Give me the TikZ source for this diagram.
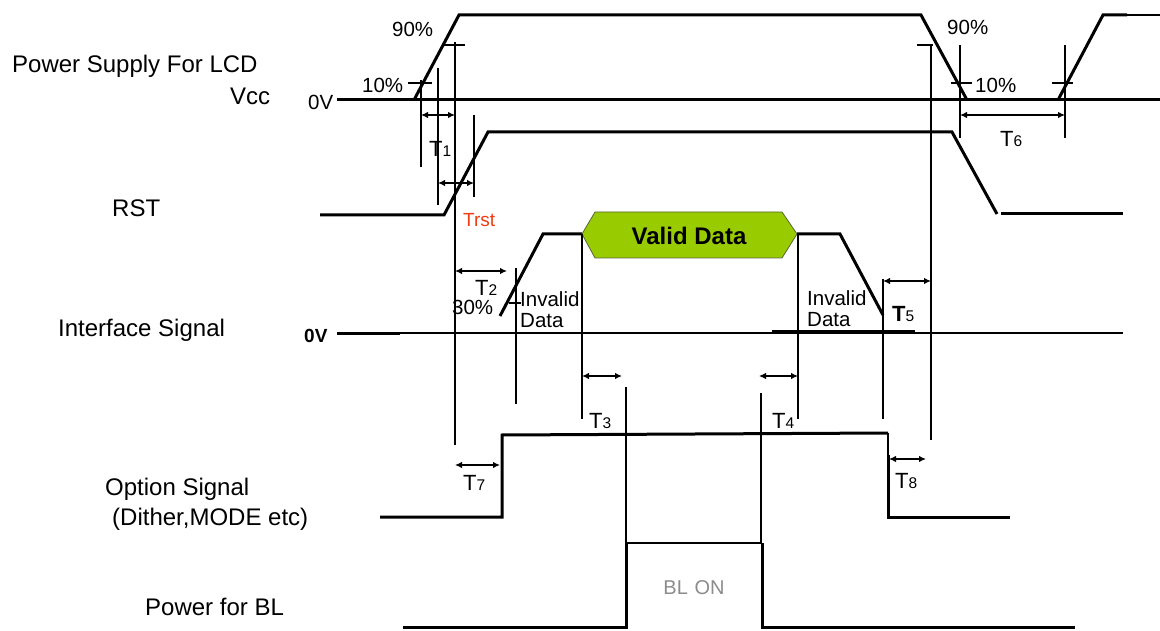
\documentclass[tikz,border=0pt]{standalone}
\usepackage{fontspec}
\setmainfont{Liberation Sans}
\usetikzlibrary{arrows.meta}
\definecolor{validgreen}{RGB}{153,204,0}
\definecolor{validedge}{RGB}{90,100,60}
\definecolor{trstred}{RGB}{240,60,20}
\definecolor{blgray}{RGB}{140,140,140}
\newcommand\mkT[1]{T{\fontsize{15.5}{15}\selectfont #1}}
\begin{document}
\begin{tikzpicture}[x=1pt,y=-1pt,
  sig/.style={line width=3pt, line join=miter},
  guide/.style={line width=1.3pt},
  dim/.style={line width=1.3pt, {Latex[length=7pt,width=6.5pt]}-{Latex[length=7pt,width=6.5pt]}},
  lbl/.style={font=\fontsize{24}{28}\selectfont, inner sep=0pt, anchor=base west},
  pct/.style={font=\fontsize{20.5}{24}\selectfont, inner sep=0pt, anchor=base west},
  tl/.style={font=\fontsize{22}{24}\selectfont, inner sep=0pt, anchor=base west}]
\useasboundingbox (0,0) rectangle (1160,631);

% ---------- left labels ----------
\node[lbl] (lcd) at (12,73) {Power Supply For LCD};
\node[lbl] (vcc) at (230,105) {Vcc};
\node[lbl] (rst) at (112,217) {RST};
\node[lbl] (ifs) at (58,336) {Interface Signal};
\node[lbl] (opt) at (105,495) {Option Signal};
\node[lbl] (dith) at (112,525) {(Dither,MODE etc)};
\node[lbl] (pbl) at (145,615) {Power for BL};
\node[pct] (zv) at (308,110) {0V};
\node[font=\fontsize{19}{22}\selectfont\bfseries, inner sep=0pt, anchor=base west] (zvb) at (304,342) {0V};

% ---------- Vcc ----------
\draw[sig] (337,100) -- (1160,100);
\draw[sig] (414,100) -- (459,15) -- (921,15) -- (967,100);
\draw[sig] (1058,100) -- (1103,15) -- (1127,15);
\draw[guide] (1127,15) -- (1160,15);

% ---------- RST ----------
\draw[sig] (320,215) -- (444,215) -- (488,132) -- (952,132) -- (997,214);
\draw[sig] (1001,214) -- (1123,214);

% ---------- Interface ----------
\draw[sig] (337,333) -- (400,333);
\draw[guide] (400,333) -- (1123,333);
\draw[sig] (500,316) -- (543,234) -- (582,234);
\draw[fill=validgreen, draw=validedge, line width=0.8pt]
  (582,234) -- (595,212) -- (782,212) -- (797,234) -- (782,258) -- (595,258) -- cycle;
\node[font=\fontsize{24}{28}\selectfont\bfseries, inner sep=0pt] (valid) at (689,236) {Valid Data};
\draw[sig] (797,234) -- (840,234) -- (883,315);
\draw[sig] (772,331) -- (915,331);

% ---------- Option ----------
\draw[sig] (380,517) -- (502,517) -- (502,435) -- (888,433);
\draw[guide] (888,433) -- (888,455);
\draw[sig] (888,455) -- (888,517) -- (1010,517);

% ---------- BL ----------
\draw[sig] (403,627) -- (626,627) -- (626,543);
\draw[guide] (626,543) -- (762,543);
\draw[sig] (762,543) -- (762,627) -- (1075,627);
\node[font=\fontsize{20}{24}\selectfont, text=blgray, inner sep=0pt] (blon) at (694,588) {BL\,\,ON};

% ---------- guide lines ----------
\coordinate (g1t) at (421,80);   \coordinate (g1b) at (421,167);
\coordinate (g2t) at (438,68);   \coordinate (g2b) at (438,205);
\coordinate (g3t) at (455,42);   \coordinate (g3b) at (455,445);
\coordinate (g4t) at (474,115);  \coordinate (g4b) at (474,197);
\coordinate (g5t) at (516,268);  \coordinate (g5b) at (516,404);
\coordinate (g6t) at (582,234);  \coordinate (g6b) at (582,419);
\coordinate (g7t) at (626,387);  \coordinate (g7b) at (626,543);
\coordinate (g8t) at (761,393);  \coordinate (g8b) at (761,543);
\coordinate (g9t) at (798,234);  \coordinate (g9b) at (798,419);
\coordinate (g10t) at (883,279); \coordinate (g10b) at (883,419);
\coordinate (g11t) at (931,45);  \coordinate (g11b) at (931,440);
\coordinate (g12t) at (960,45);  \coordinate (g12b) at (960,138);
\coordinate (g13t) at (1065,45); \coordinate (g13b) at (1065,138);
\foreach \g in {1,...,13} {\draw[guide] (g\g t) -- (g\g b);}

% ticks
\coordinate (k1a) at (408,83);  \coordinate (k1b) at (432,83);
\coordinate (k2a) at (443,45);  \coordinate (k2b) at (465,45);
\coordinate (k3a) at (917,45);  \coordinate (k3b) at (933,45);
\coordinate (k4a) at (951,83);  \coordinate (k4b) at (972,83);
\coordinate (k5a) at (1052,83); \coordinate (k5b) at (1073,83);
\coordinate (k6a) at (509,303); \coordinate (k6b) at (521,303);
\foreach \k in {1,...,6} {\draw[guide] (k\k a) -- (k\k b);}

% percentages
\node[pct] (p90l) at (392,37) {90\%};
\node[pct] (p10l) at (362,93) {10\%};
\node[pct] (p90r) at (947,35) {90\%};
\node[pct] (p10r) at (975,93) {10\%};
\node[pct] (p30) at (452,315) {30\%};

% invalid data labels
\node[pct, align=left, anchor=north west] (inv1) at (520,291) {Invalid\\[-3pt]Data};
\node[pct, align=left, anchor=north west] (inv2) at (807,290) {Invalid\\[-3pt]Data};

% ---------- dimension arrows ----------
\coordinate (a1l) at (421,115);  \coordinate (a1r) at (455,115);
\coordinate (arl) at (438,183);  \coordinate (arr) at (474,183);
\coordinate (a6l) at (960,115);  \coordinate (a6r) at (1065,115);
\coordinate (a2l) at (455,271);  \coordinate (a2r) at (507,271);
\coordinate (a3l) at (582,376);  \coordinate (a3r) at (622,376);
\coordinate (a4l) at (759,376);  \coordinate (a4r) at (798,376);
\coordinate (a5l) at (883,281);  \coordinate (a5r) at (931,281);
\coordinate (a7l) at (455,465);  \coordinate (a7r) at (500,465);
\coordinate (a8l) at (889,459);  \coordinate (a8r) at (926,459);
\foreach \a in {1,r,6,2,3,4,5,7,8} {\draw[dim] (a\a l) -- (a\a r);}

% T labels
\node[tl] (t1) at (429,157) {\mkT{1}};
\node[tl, text=trstred, font=\fontsize{19}{22}\selectfont] (trst) at (463,227) {Trst};
\node[tl] (t2) at (475,295) {\mkT{2}};
\node[tl] (t3) at (589,428) {\mkT{3}};
\node[tl] (t4) at (772,428) {\mkT{4}};
\node[tl, font=\fontsize{22}{24}\selectfont\bfseries] (t5) at (892,322) {T{\fontsize{15.5}{15}\selectfont\mdseries 5}};
\node[tl] (t6) at (1000,147) {\mkT{6}};
\node[tl] (t7) at (463,490) {\mkT{7}};
\node[tl] (t8) at (895,488) {\mkT{8}};
\end{tikzpicture}
\end{document}
